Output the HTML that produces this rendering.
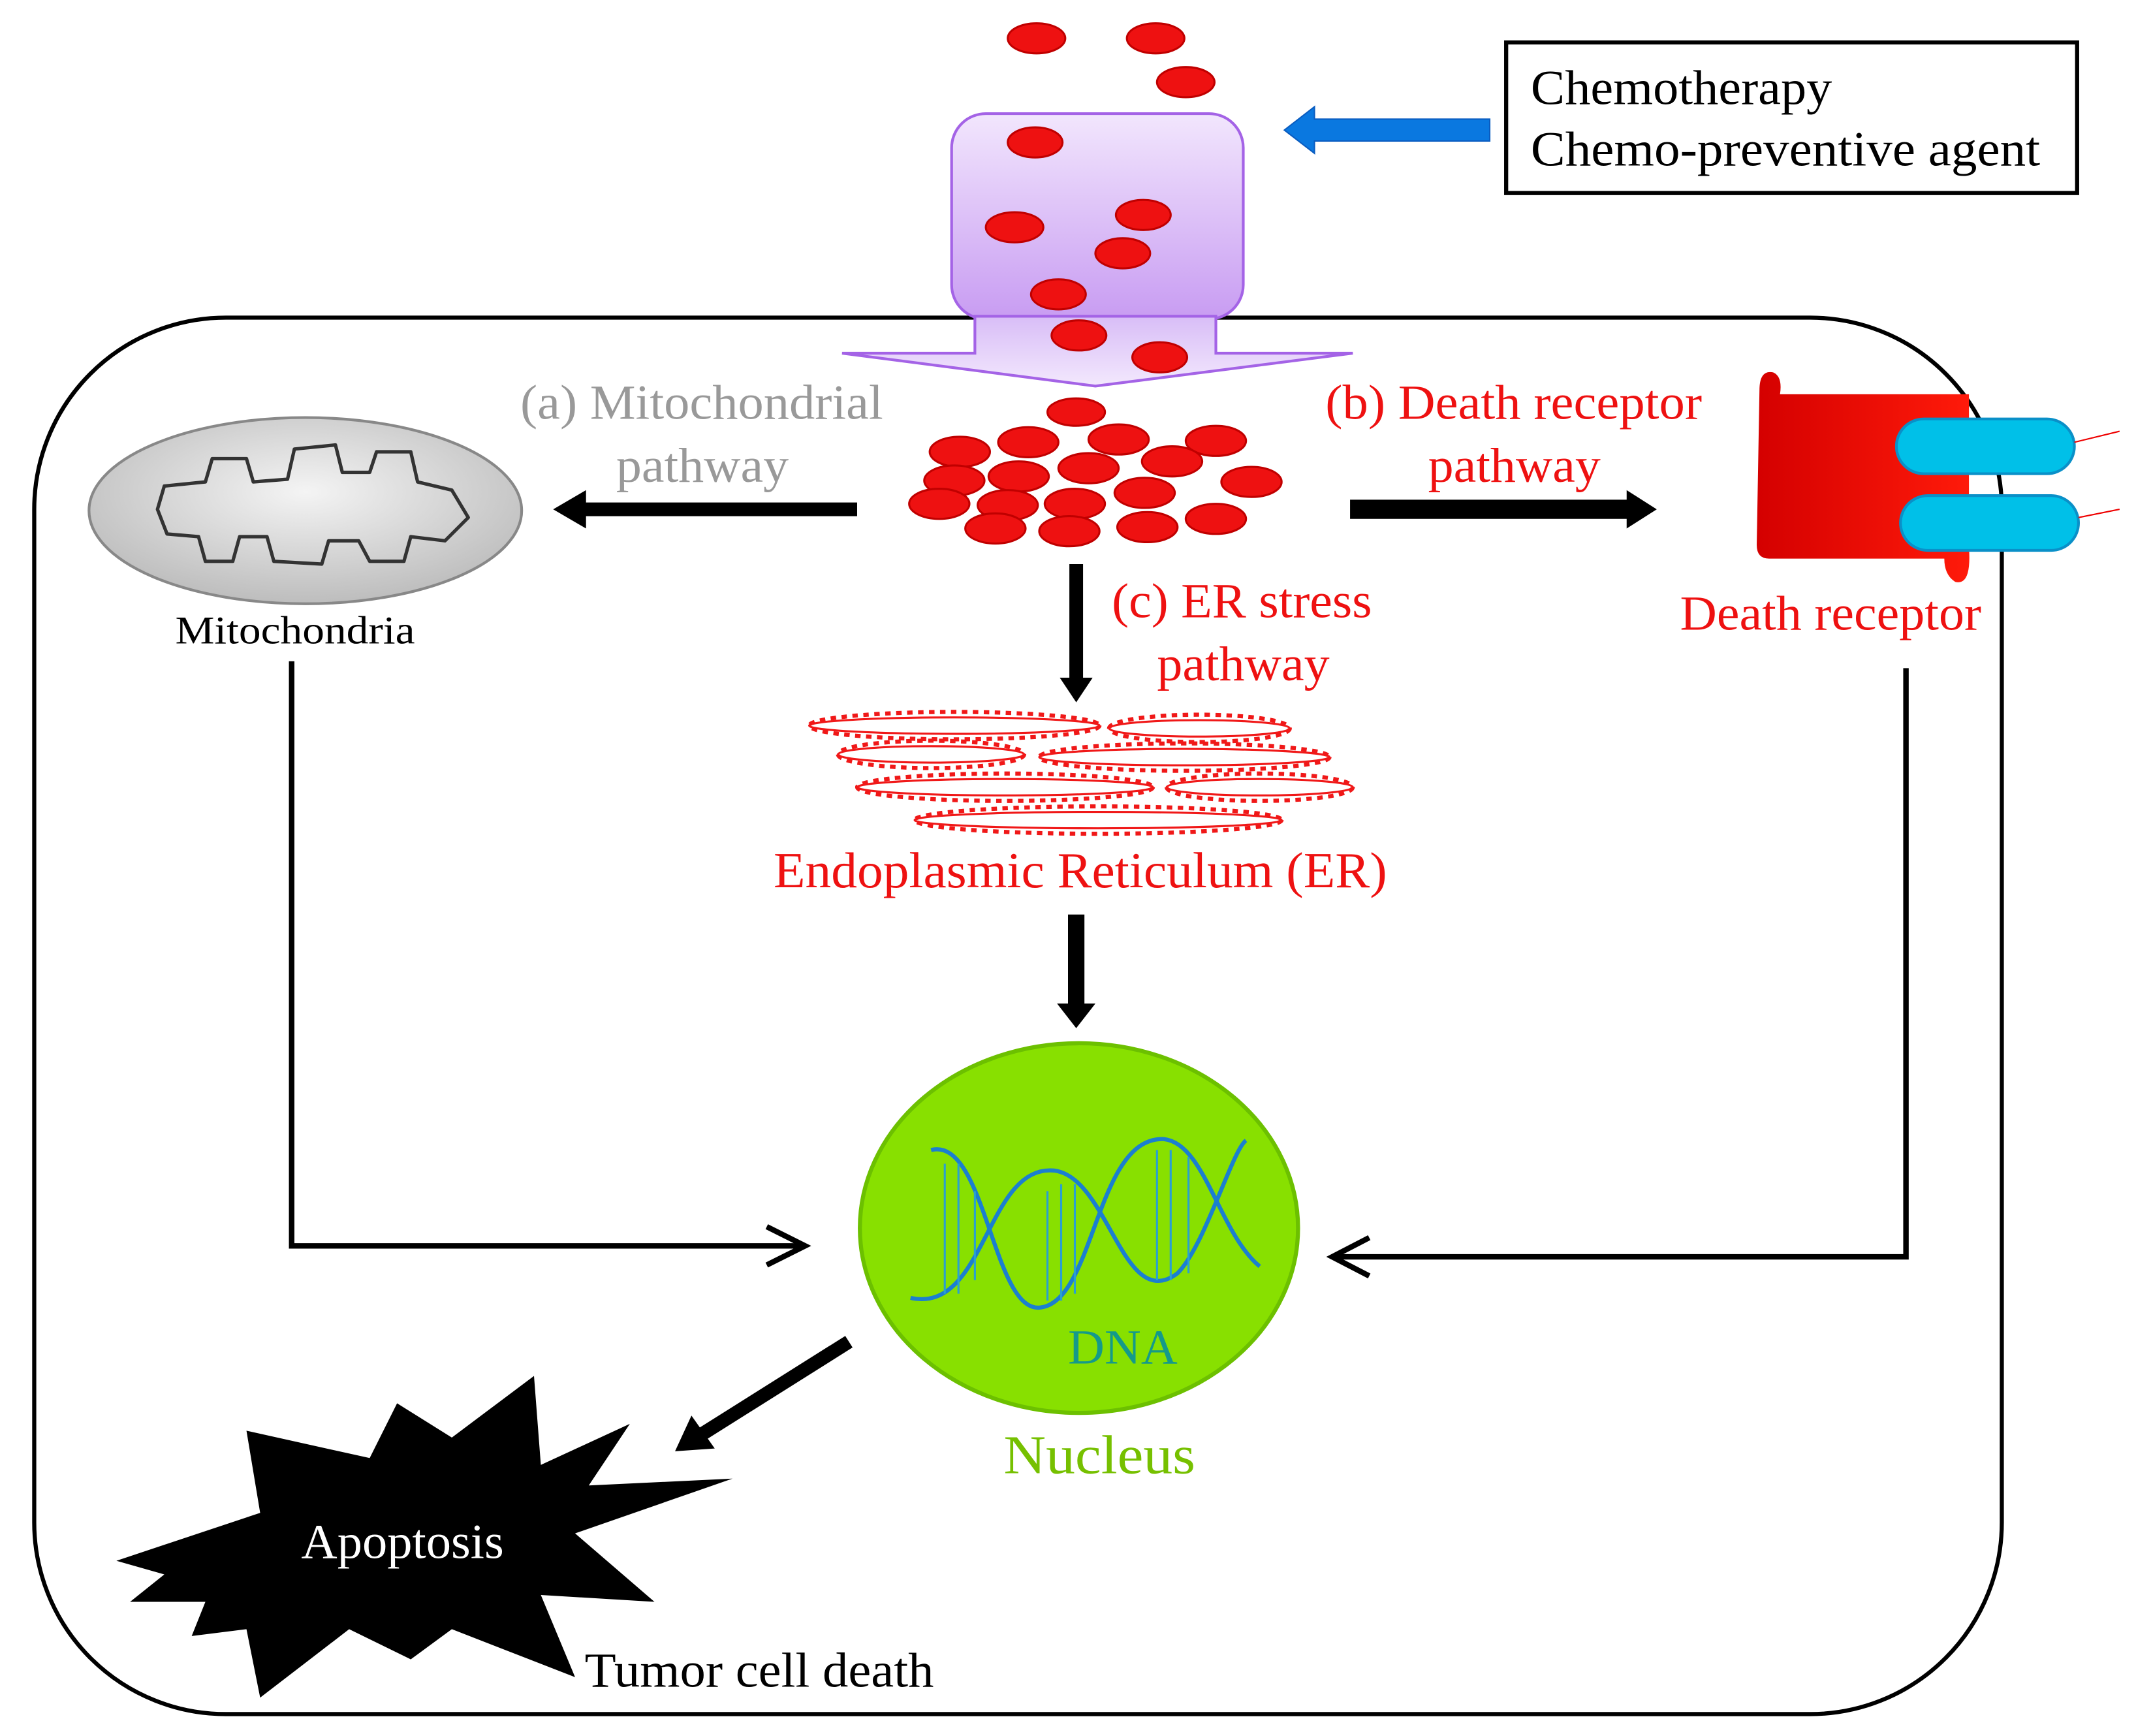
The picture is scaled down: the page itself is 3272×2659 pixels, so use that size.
<!DOCTYPE html>
<html><head><meta charset="utf-8"><style>html,body{margin:0;padding:0;background:#fff}svg{display:block}</style></head>
<body>
<svg width="3272" height="2659" viewBox="0 0 1560 1268" preserveAspectRatio="none" xmlns="http://www.w3.org/2000/svg" font-family="'Liberation Serif',serif">
<defs>
<linearGradient id="pg" x1="0" y1="0" x2="0" y2="1"><stop offset="0" stop-color="#f2e6fd"/><stop offset="1" stop-color="#c89cf2"/></linearGradient>
<linearGradient id="pg2" x1="0" y1="0" x2="0" y2="1"><stop offset="0" stop-color="#d8bdf7"/><stop offset="1" stop-color="#f3e8fd"/></linearGradient>
<radialGradient id="mg" cx="0.5" cy="0.4" r="0.6"><stop offset="0" stop-color="#f4f4f4"/><stop offset="1" stop-color="#bdbdbd"/></radialGradient>
<linearGradient id="rg" x1="0" y1="0" x2="1" y2="0"><stop offset="0" stop-color="#d40000"/><stop offset="1" stop-color="#ff1a0a"/></linearGradient>
</defs>
<rect x="25" y="232" width="1437" height="1020" rx="140" fill="none" stroke="#000" stroke-width="3"/>
<rect x="1100" y="31" width="417" height="110" fill="#fff" stroke="#000" stroke-width="3"/>
<text x="1118" y="76" font-size="36" textLength="220" lengthAdjust="spacingAndGlyphs">Chemotherapy</text>
<text x="1118" y="121" font-size="36" textLength="372" lengthAdjust="spacingAndGlyphs">Chemo-preventive agent</text>
<polygon points="1088,87 960,87 960,78 938,95 960,112 960,103 1088,103" fill="#0a78e0" stroke="#0a5cc0"/>
<rect x="695" y="83" width="213" height="150" rx="25" fill="url(#pg)" stroke="#a463e6" stroke-width="2"/>
<polygon points="712,231 888,231 888,258 988,258 800,282 615,258 712,258" fill="url(#pg2)" stroke="#a463e6" stroke-width="2"/>
<g fill="#ee1111" stroke="#c00000" stroke-width="1.5">
<ellipse cx="757" cy="28" rx="21" ry="11"/><ellipse cx="844" cy="28" rx="21" ry="11"/><ellipse cx="866" cy="60" rx="21" ry="11"/>
<ellipse cx="756" cy="104" rx="20" ry="11"/><ellipse cx="741" cy="166" rx="21" ry="11"/><ellipse cx="835" cy="157" rx="20" ry="11"/>
<ellipse cx="820" cy="185" rx="20" ry="11"/><ellipse cx="773" cy="215" rx="20" ry="11"/><ellipse cx="788" cy="245" rx="20" ry="11"/><ellipse cx="847" cy="261" rx="20" ry="11"/>
<ellipse cx="786" cy="301" rx="21" ry="10"/>
<ellipse cx="701" cy="330" rx="22" ry="11"/><ellipse cx="751" cy="323" rx="22" ry="11"/><ellipse cx="817" cy="321" rx="22" ry="11"/><ellipse cx="888" cy="322" rx="22" ry="11"/>
<ellipse cx="856" cy="337" rx="22" ry="11"/><ellipse cx="795" cy="342" rx="22" ry="11"/><ellipse cx="744" cy="348" rx="22" ry="11"/><ellipse cx="697" cy="351" rx="22" ry="11"/>
<ellipse cx="914" cy="352" rx="22" ry="11"/><ellipse cx="836" cy="360" rx="22" ry="11"/><ellipse cx="736" cy="369" rx="22" ry="11"/><ellipse cx="785" cy="368" rx="22" ry="11"/>
<ellipse cx="686" cy="368" rx="22" ry="11"/><ellipse cx="888" cy="379" rx="22" ry="11"/><ellipse cx="838" cy="385" rx="22" ry="11"/><ellipse cx="727" cy="386" rx="22" ry="11"/><ellipse cx="781" cy="388" rx="22" ry="11"/>
</g>
<ellipse cx="223" cy="373" rx="158" ry="68" fill="url(#mg)" stroke="#888" stroke-width="2"/>
<path d="M120,355 L150,352 L155,335 L180,335 L185,352 L210,350 L215,328 L245,325 L250,345 L270,345 L275,330 L300,330 L305,352 L330,358 L342,378 L325,395 L300,392 L295,410 L270,410 L262,395 L240,395 L235,412 L200,410 L195,392 L175,392 L170,410 L150,410 L145,392 L122,390 L115,372 Z" fill="none" stroke="#333" stroke-width="2.5" stroke-linejoin="round"/>
<text x="128" y="470" font-size="29" textLength="175" lengthAdjust="spacingAndGlyphs">Mitochondria</text>
<text x="380" y="306" font-size="36" fill="#999" textLength="265" lengthAdjust="spacingAndGlyphs">(a) Mitochondrial</text>
<text x="450" y="352" font-size="36" fill="#999" textLength="126" lengthAdjust="spacingAndGlyphs">pathway</text>
<polygon points="626,367 428,367 428,358 404,372 428,386 428,377 626,377" fill="#000"/>
<text x="968" y="306" font-size="36" fill="#ee1111" textLength="275" lengthAdjust="spacingAndGlyphs">(b) Death receptor</text>
<text x="1043" y="352" font-size="36" fill="#ee1111" textLength="126" lengthAdjust="spacingAndGlyphs">pathway</text>
<polygon points="986,365 1188,365 1188,358 1210,372 1188,386 1188,379 986,379" fill="#000"/>
<path d="M1285,285 Q1285,270 1295,272 Q1302,275 1300,288 L1438,288 L1438,400 Q1440,428 1428,425 Q1420,420 1420,408 L1292,408 Q1283,408 1283,398 Z" fill="url(#rg)"/>
<rect x="1385" y="306" width="130" height="40" rx="20" fill="#00c0e8" stroke="#0a90c8" stroke-width="2"/>
<rect x="1388" y="362" width="130" height="40" rx="20" fill="#00c0e8" stroke="#0a90c8" stroke-width="2"/>
<line x1="1515" y1="323" x2="1548" y2="315" stroke="#e00" stroke-width="1"/>
<line x1="1518" y1="378" x2="1548" y2="372" stroke="#e00" stroke-width="1"/>
<text x="1227" y="460" font-size="36" fill="#ee1111" textLength="220" lengthAdjust="spacingAndGlyphs">Death receptor</text>
<polygon points="781,412 791,412 791,495 798,495 786,513 774,495 781,495" fill="#000"/>
<text x="812" y="451" font-size="36" fill="#ee1111" textLength="190" lengthAdjust="spacingAndGlyphs">(c) ER stress</text>
<text x="845" y="497" font-size="36" fill="#ee1111" textLength="126" lengthAdjust="spacingAndGlyphs">pathway</text>
<g fill="none" stroke="#f01818" stroke-width="3" stroke-dasharray="4 4">
<ellipse cx="697" cy="530" rx="106" ry="10"/><ellipse cx="876" cy="532" rx="66" ry="10"/>
<ellipse cx="680" cy="551" rx="68" ry="10"/><ellipse cx="865" cy="553" rx="106" ry="10"/>
<ellipse cx="734" cy="575" rx="108" ry="10"/><ellipse cx="920" cy="575" rx="68" ry="10"/>
<ellipse cx="802" cy="599" rx="134" ry="10"/>
</g>
<g fill="none" stroke="#f01818" stroke-width="1.5">
<ellipse cx="697" cy="530" rx="106" ry="6"/><ellipse cx="876" cy="532" rx="66" ry="6"/>
<ellipse cx="680" cy="551" rx="68" ry="6"/><ellipse cx="865" cy="553" rx="106" ry="6"/>
<ellipse cx="734" cy="575" rx="108" ry="6"/><ellipse cx="920" cy="575" rx="68" ry="6"/>
<ellipse cx="802" cy="599" rx="134" ry="6"/>
</g>
<text x="565" y="648" font-size="37" fill="#ee1111" textLength="448" lengthAdjust="spacingAndGlyphs">Endoplasmic  Reticulum (ER)</text>
<polygon points="780,668 792,668 792,733 800,733 786,751 772,733 780,733" fill="#000"/>
<ellipse cx="788" cy="897" rx="160" ry="135" fill="#88e000" stroke="#6cc000" stroke-width="3"/>
<g fill="none" stroke="#1b7fd0" stroke-width="3">
<path d="M680,840 C720,830 725,960 760,955 C800,950 800,830 850,832 C880,835 890,900 920,925"/>
<path d="M665,948 C720,960 720,850 770,855 C810,860 820,960 860,930 C880,910 900,840 910,833"/>
</g>
<g stroke="#2aa0d0" stroke-width="1.5">
<line x1="690" y1="850" x2="690" y2="945"/><line x1="700" y1="850" x2="700" y2="945"/><line x1="712" y1="870" x2="712" y2="935"/><line x1="765" y1="870" x2="765" y2="950"/><line x1="775" y1="865" x2="775" y2="950"/><line x1="785" y1="865" x2="785" y2="945"/><line x1="845" y1="840" x2="845" y2="935"/><line x1="855" y1="840" x2="855" y2="935"/><line x1="868" y1="845" x2="868" y2="930"/>
</g>
<text x="780" y="996" font-size="36" fill="#149a8a" textLength="80" lengthAdjust="spacingAndGlyphs">DNA</text>
<text x="733" y="1076" font-size="40" fill="#76c000" textLength="140" lengthAdjust="spacingAndGlyphs">Nucleus</text>
<polyline points="213,483 213,910 585,910" fill="none" stroke="#000" stroke-width="4"/>
<polyline points="560,896 588,910 560,924" fill="none" stroke="#000" stroke-width="4"/>
<polyline points="1392,488 1392,918 975,918" fill="none" stroke="#000" stroke-width="4"/>
<polyline points="1000,904 973,918 1000,932" fill="none" stroke="#000" stroke-width="4"/>
<line x1="620" y1="980" x2="512" y2="1048" stroke="#000" stroke-width="10"/>
<polygon points="493,1060 505,1034 522,1058" fill="#000"/>
<polygon points="85,1140 190,1105 180,1045 270,1065 290,1025 330,1050 390,1005 395,1070 460,1040 430,1085 535,1080 420,1120 478,1170 395,1165 420,1225 330,1190 300,1212 255,1190 190,1240 180,1190 140,1195 150,1170 95,1170 120,1150" fill="#000"/>
<text x="220" y="1138" font-size="36" fill="#fff" textLength="148" lengthAdjust="spacingAndGlyphs">Apoptosis</text>
<text x="427" y="1232" font-size="36" textLength="255" lengthAdjust="spacingAndGlyphs">Tumor cell death</text>
</svg>
</body></html>
